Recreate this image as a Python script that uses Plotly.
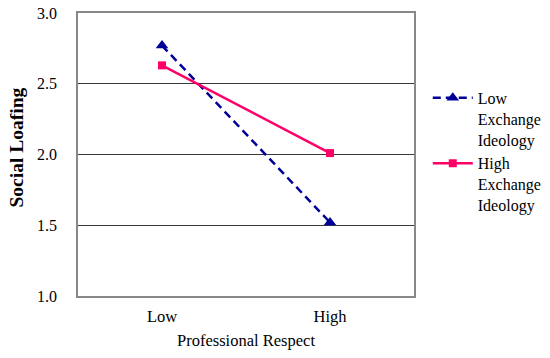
import plotly.graph_objects as go

categories = ["Low", "High"]
low_exchange = [2.77, 1.52]
high_exchange = [2.63, 2.01]
y_ticks = [1.0, 1.5, 2.0, 2.5, 3.0]
y_tick_labels = ["1.0", "1.5", "2.0", "2.5", "3.0"]

fig = go.Figure()
fig.add_trace(go.Scatter(
    x=categories, y=low_exchange, mode="lines+markers",
    name="Low<br>Exchange<br>Ideology",
    line=dict(color="#000099", width=2.5, dash="8px,5px"),
    marker=dict(symbol="triangle-up", size=11, color="#000099"),
))
fig.add_trace(go.Scatter(
    x=categories, y=high_exchange, mode="lines+markers",
    name="High<br>Exchange<br>Ideology",
    line=dict(color="#FF0066", width=2.5),
    marker=dict(symbol="square", size=8, color="#FF0066"),
))

font_family = "Liberation Serif"
# the page body adds an 8px margin, so the figure is sized to fit the window
fig.update_layout(
    width=534, height=342,
    margin=dict(l=70, r=128, t=5, b=54, autoexpand=False),
    paper_bgcolor="white", plot_bgcolor="white",
    font=dict(family=font_family, size=16.5, color="black"),
    showlegend=True,
    legend=dict(x=1.041, y=0.76, xanchor="left", yanchor="top",
                valign="top", itemwidth=40,
                font=dict(family=font_family, size=16),
                tracegroupgap=0, bgcolor="rgba(0,0,0,0)"),
    xaxis=dict(
        type="category", range=[-0.5, 1.5],
        showgrid=False, showline=True, linecolor="#888888", linewidth=1.5,
        mirror=True, ticks="", tickfont=dict(size=16.5), ticklabelstandoff=4,
        title=dict(text="Professional Respect", font=dict(size=16.5), standoff=17),
    ),
    yaxis=dict(
        range=[1.0, 3.0], tickvals=y_ticks, ticktext=y_tick_labels,
        showgrid=True, gridcolor="#3a3a3a", gridwidth=1.2,
        showline=True, linecolor="#888888", linewidth=1.5, mirror=True,
        ticks="", tickfont=dict(size=16), zeroline=False,
        ticklabelstandoff=16, ticklabeloverflow="allow",
    ),
    annotations=[dict(
        text="<b>Social Loafing</b>", textangle=-90,
        xref="paper", yref="paper", x=-0.183, y=0.523,
        xanchor="center", yanchor="middle", showarrow=False,
        font=dict(family=font_family, size=19.5, color="black"),
    )],
)

fig.write_html("out.html")
